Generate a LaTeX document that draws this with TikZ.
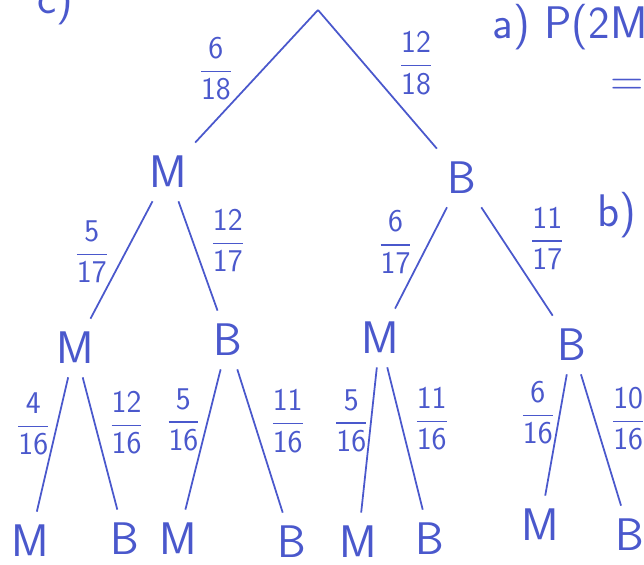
\documentclass[tikz,border=0pt]{standalone}
\usepackage{amsmath}
\usepackage{xcolor}
\usepackage{tikz}
\usetikzlibrary{positioning,calc}
\definecolor{pen}{HTML}{4A58CC}
\newcommand{\fr}[2]{$\dfrac{\textsf{#1}}{\textsf{#2}}$}

\begin{document}
\begin{tikzpicture}[every node/.style={text=pen}]
    \tikzset{
        leaf/.style={font=\sffamily\fontsize{26}{28}\selectfont, inner sep=0pt, outer sep=0.27cm},
        prob/.style={font=\sffamily\fontsize{18}{21}\selectfont, inner sep=1pt, pos=0.6},
        lprob/.style={prob, anchor=south east, xshift=2pt},
        rprob/.style={prob, anchor=south west, xshift=2pt},
        branch/.style={draw=pen, line width=1pt},
        note/.style={font=\sffamily\fontsize{26}{28}\selectfont, inner sep=0pt}
    }
    \useasboundingbox (0,0) rectangle (12.88,11.3);
    \clip (0,0) rectangle (12.88,11.3);

    % Notes at the edges
    \node[note] (qc) at (1.1, 11.25) {c)};
    \node[note, anchor=west] (qa) at (9.85, 10.75) {a) P(2M,};
    \node[note] (qeq) at (12.55, 9.55) {=};
    \node[note, anchor=west] (qb) at (11.95, 7.0) {b)};

    % Root
    \coordinate (root) at (6.36, 11.1);

    % First draw
    \node[leaf] (m) at (3.36, 7.86) {M};
    \node[leaf] (b) at (9.24, 7.74) {B};

    % Second draw
    \node[leaf] (mm) at (1.5, 4.34) {M};
    \node[leaf] (mb) at (4.56, 4.5) {B};
    \node[leaf] (bm) at (7.6, 4.54) {M};
    \node[leaf] (bb) at (11.44, 4.4) {B};

    % Third draw
    \node[leaf] (mmm) at (0.6, 0.48) {M};
    \node[leaf] (mmb) at (2.5, 0.52) {B};
    \node[leaf] (mbm) at (3.56, 0.52) {M};
    \node[leaf] (mbb) at (5.84, 0.46) {B};
    \node[leaf] (bmm) at (7.16, 0.46) {M};
    \node[leaf] (bmb) at (8.6, 0.52) {B};
    \node[leaf] (bbm) at (10.8, 0.8) {M};
    \node[leaf] (bbb) at (12.6, 0.6) {B};

    % Branches
    \draw[branch] (root) -- node[lprob, pos=0.7] {\fr{6}{18}} (m);
    \draw[branch] (root) -- node[rprob, pos=0.63] {\fr{12}{18}} (b);

    \draw[branch] (m) -- node[lprob, pos=0.72] {\fr{5}{17}} (mm);
    \draw[branch] (m) -- node[rprob, pos=0.67] {\fr{12}{17}} (mb);
    \draw[branch] (b) -- node[lprob, pos=0.68] {\fr{6}{17}} (bm);
    \draw[branch] (b) -- node[rprob] {\fr{11}{17}} (bb);

    \draw[branch] (mm) -- node[lprob] {\fr{4}{16}} (mmm);
    \draw[branch] (mm) -- node[rprob] {\fr{12}{16}} (mmb);
    \draw[branch] (mb) -- node[lprob] {\fr{5}{16}} (mbm);
    \draw[branch] (mb) -- node[rprob] {\fr{11}{16}} (mbb);
    \draw[branch] (bm) -- node[lprob] {\fr{5}{16}} (bmm);
    \draw[branch] (bm) -- node[rprob] {\fr{11}{16}} (bmb);
    \draw[branch] (bb) -- node[lprob] {\fr{6}{16}} (bbm);
    \draw[branch] (bb) -- node[rprob] {\fr{10}{16}} (bbb);
\end{tikzpicture}
\end{document}
